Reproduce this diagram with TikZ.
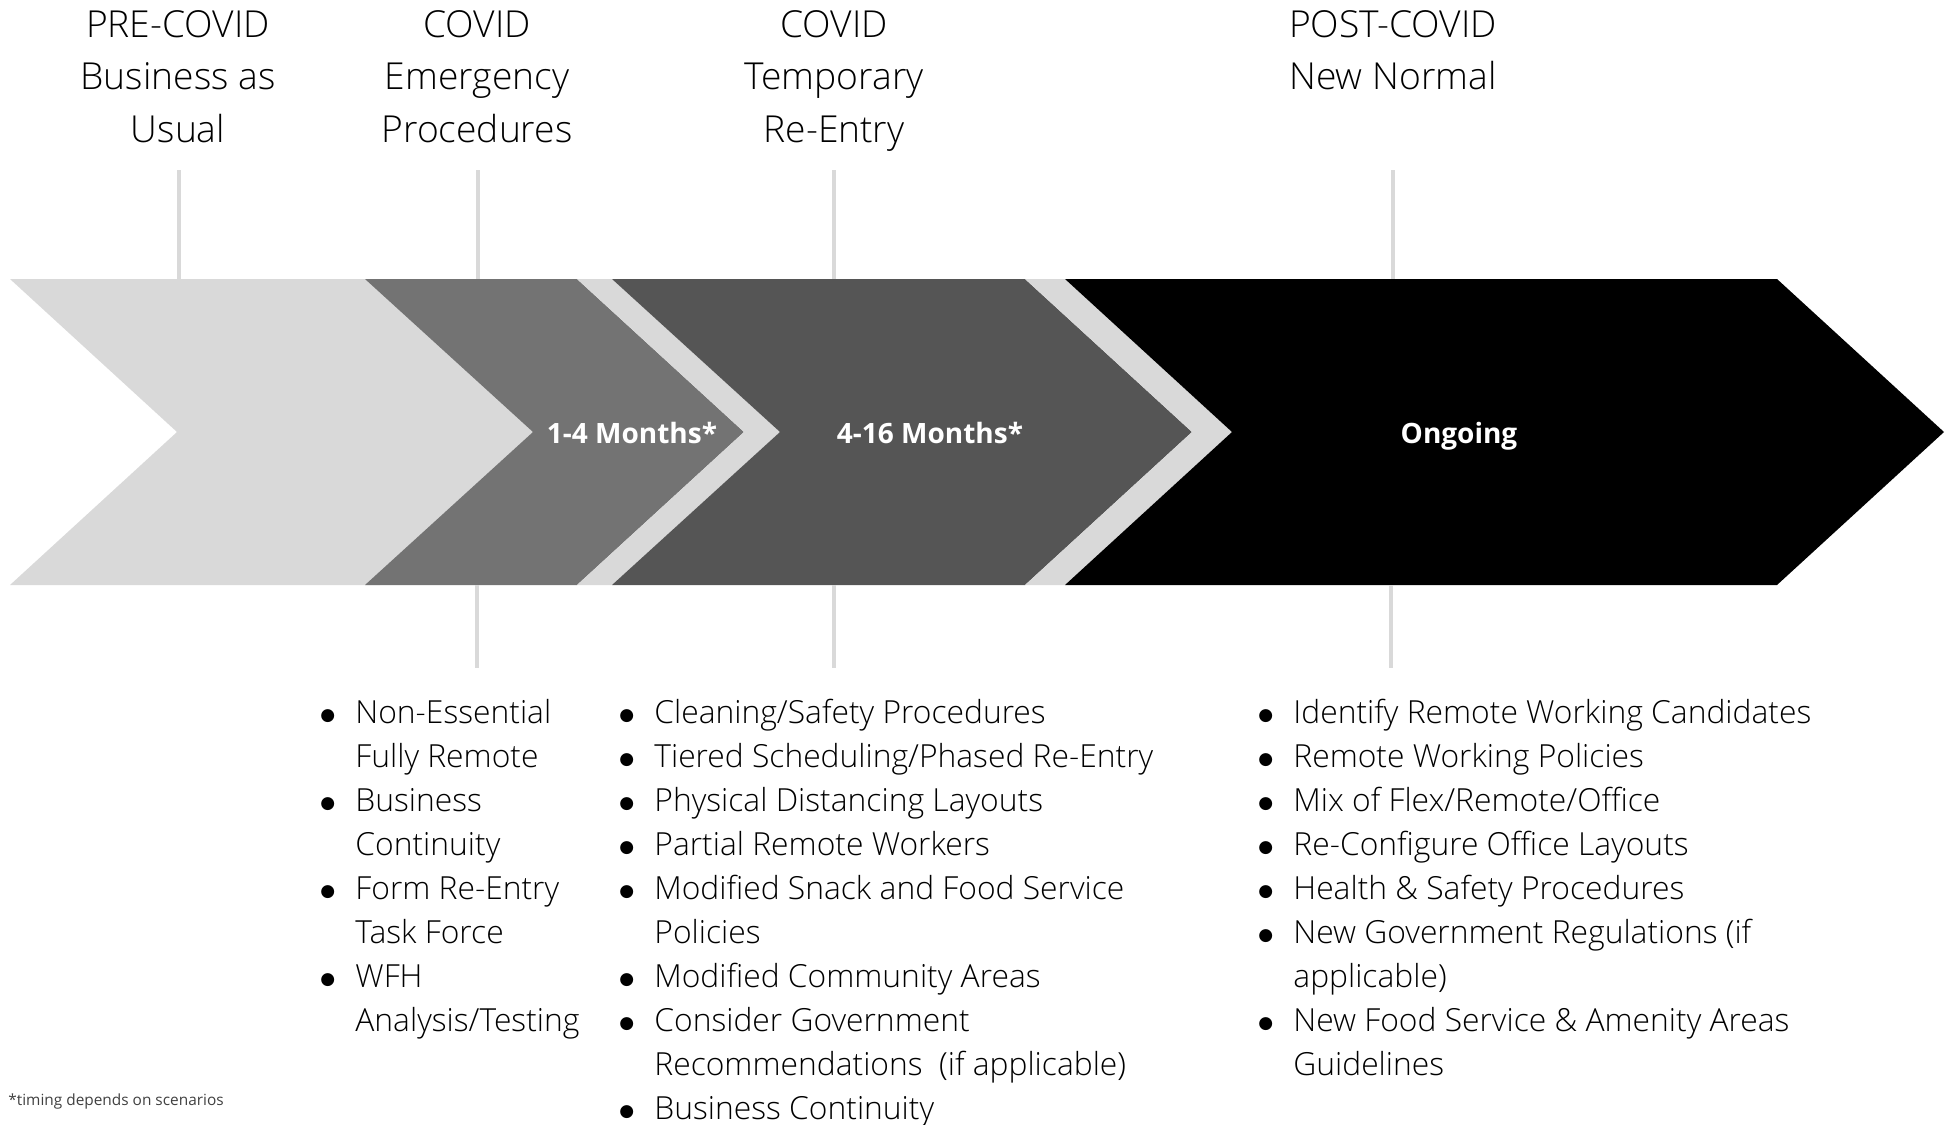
\documentclass[tikz,border=0pt]{standalone}
\usepackage{fontspec}
\setmainfont{Open Sans}[UprightFont=* Light, BoldFont=* Bold]
\newfontfamily\footfont{Open Sans}
\newfontfamily\dejavu{DejaVu Sans}
\definecolor{lgray}{HTML}{D9D9D9}
\definecolor{mgray}{HTML}{737373}
\definecolor{dgray}{HTML}{555555}
\definecolor{ftgray}{HTML}{404040}
\newcommand\bi{\makebox[17.5pt][l]{\raisebox{1.2pt}{\dejavu\fontsize{8.5}{8.5}\selectfont ●}}}
\newcommand\bc{\hspace*{17.5pt}}
\tikzset{
  title/.style={font=\fontsize{18.6}{26.25}\selectfont, anchor=base, inner sep=0pt},
  phase/.style={font=\fontsize{14}{16}\selectfont\bfseries, text=white, anchor=base, inner sep=0pt},
  tick/.style={draw=lgray, line width=2pt},
  blist/.style={anchor=base west, inner sep=0pt, font=\fontsize{15.9}{22}\selectfont}
}
\begin{document}
\begin{tikzpicture}[x=0.5pt,y=-0.5pt]
\useasboundingbox (0,0) rectangle (1953,1124);
% chevrons
\fill[lgray] (10,279) -- (380,279) -- (548,432) -- (380,585) -- (10,585) -- (177,432) -- cycle;
\fill[mgray] (365,279) -- (577,279) -- (744,432) -- (577,585) -- (365,585) -- (533,432) -- cycle;
\fill[lgray] (577,279) -- (612,279) -- (780,432) -- (612,585) -- (577,585) -- (744,432) -- cycle;
\fill[dgray] (612,279) -- (1025,279) -- (1192,432) -- (1025,585) -- (612,585) -- (780,432) -- cycle;
\fill[lgray] (1025,279) -- (1065,279) -- (1232,432) -- (1065,585) -- (1025,585) -- (1192,432) -- cycle;
\fill[black] (1065,279) -- (1777,279) -- (1944,432) -- (1777,585) -- (1065,585) -- (1232,432) -- cycle;
% phase labels
\node[phase] (p1) at (632,443) {1-4 Months*};
\node[phase] (p2) at (930,443) {4-16 Months*};
\node[phase] (p3) at (1459,443) {Ongoing};
% titles
\node[title] (h1) at (178,37) {\begin{tabular}[t]{@{}c@{}}PRE-COVID\\Business as\\Usual\end{tabular}};
\node[title] (h2) at (477,37) {\begin{tabular}[t]{@{}c@{}}COVID\\Emergency\\Procedures\end{tabular}};
\node[title] (h3) at (834,37) {\begin{tabular}[t]{@{}c@{}}COVID\\Temporary\\Re-Entry\end{tabular}};
\node[title] (h4) at (1393,37) {\begin{tabular}[t]{@{}c@{}}POST-COVID\\New Normal\end{tabular}};
% tick lines
\coordinate (a1) at (179,170); \coordinate (b1) at (179,279);
\coordinate (a2) at (478,170); \coordinate (b2) at (478,279);
\coordinate (a3) at (834,170); \coordinate (b3) at (834,279);
\coordinate (a4) at (1393,170); \coordinate (b4) at (1393,279);
\coordinate (c2) at (477,585); \coordinate (d2) at (477,668);
\coordinate (c3) at (834,585); \coordinate (d3) at (834,668);
\coordinate (c4) at (1391,585); \coordinate (d4) at (1391,668);
\draw[tick] (a1) -- (b1);
\draw[tick] (a2) -- (b2);
\draw[tick] (a3) -- (b3);
\draw[tick] (a4) -- (b4);
\draw[tick] (c2) -- (d2);
\draw[tick] (c3) -- (d3);
\draw[tick] (c4) -- (d4);
% bullet lists
\node[blist] (l1) at (320,723) {\begin{tabular}[t]{@{}l@{}}
\bi Non-Essential\\ \bc Fully Remote\\
\bi Business\\ \bc Continuity\\
\bi Form Re-Entry\\ \bc Task Force\\
\bi WFH\\ \bc Analysis/Testing
\end{tabular}};
\node[blist] (l2) at (619,723) {\begin{tabular}[t]{@{}l@{}}
\bi Cleaning/Safety Procedures\\
\bi Tiered Scheduling/Phased Re-Entry\\
\bi Physical Distancing Layouts\\
\bi Partial Remote Workers\\
\bi Modified Snack and Food Service\\ \bc Policies\\
\bi Modified Community Areas\\
\bi Consider Government\\ \bc Recommendations\ \ (if applicable)\\
\bi Business Continuity
\end{tabular}};
\node[blist] (l3) at (1258,723) {\begin{tabular}[t]{@{}l@{}}
\bi Identify Remote Working Candidates\\
\bi Remote Working Policies\\
\bi Mix of Flex/Remote/Office\\
\bi Re-Configure Office Layouts\\
\bi Health \& Safety Procedures\\
\bi New Government Regulations (if\\ \bc applicable)\\
\bi New Food Service \& Amenity Areas\\ \bc Guidelines
\end{tabular}};
% footnote
\node[font=\footfont\fontsize{7.7}{9}\selectfont, text=ftgray, anchor=base west, inner sep=0pt] (fn) at (8,1105) {*timing depends on scenarios};
\end{tikzpicture}
\end{document}
